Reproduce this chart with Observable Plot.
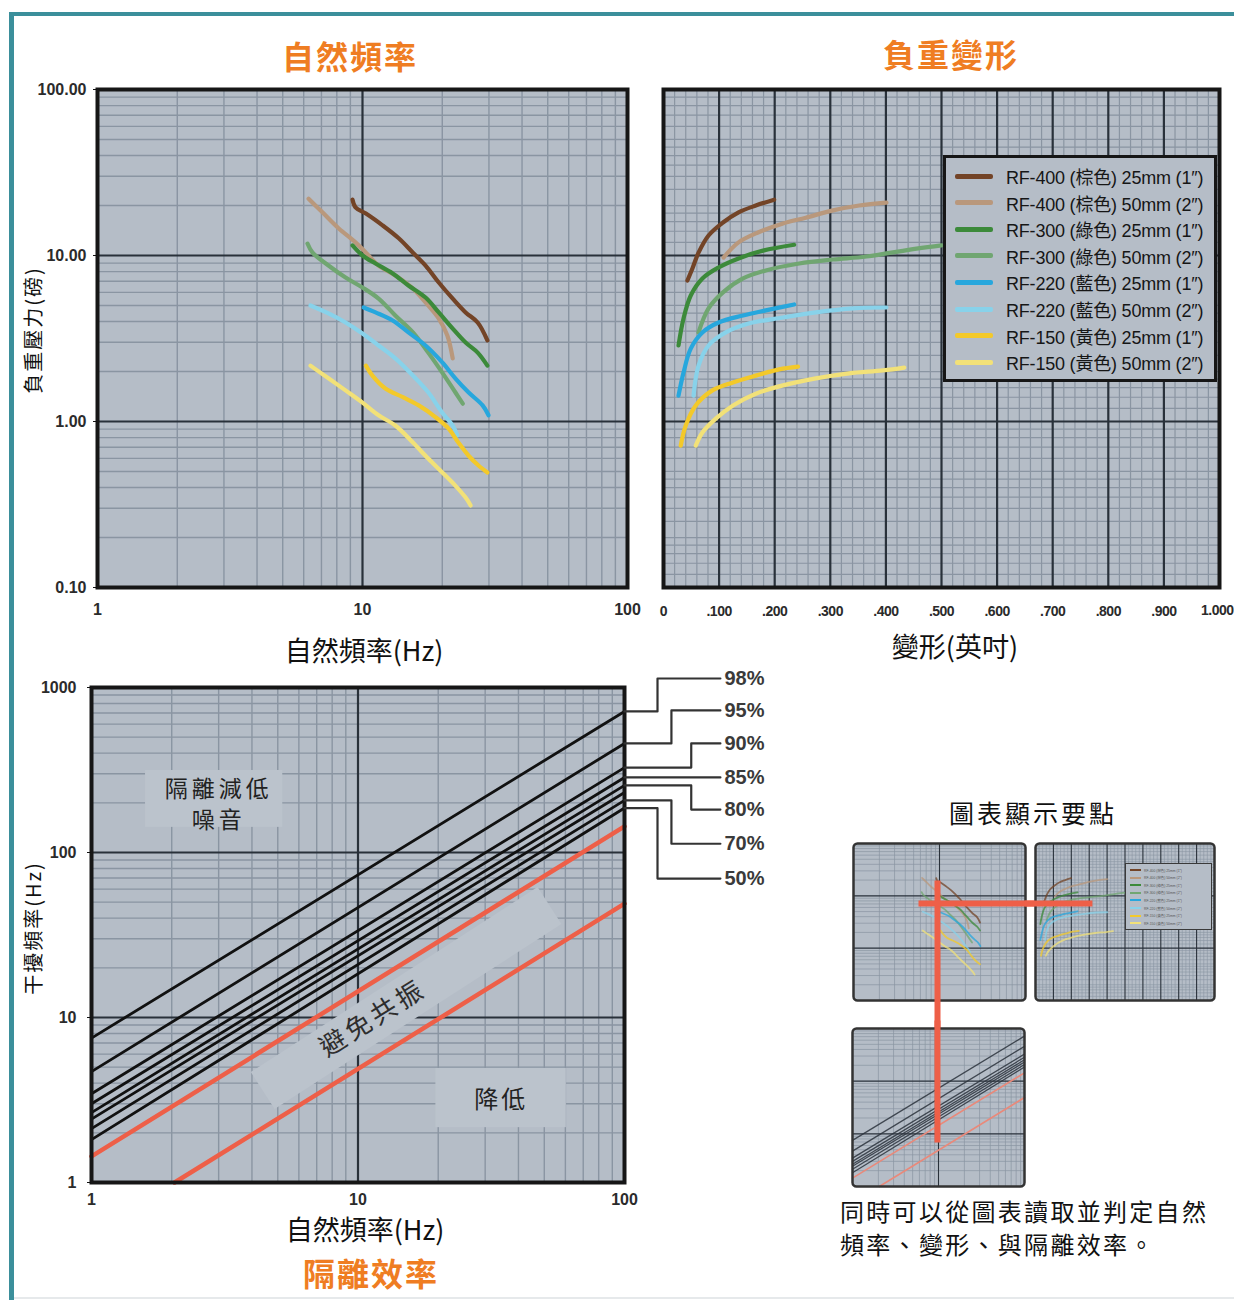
<!DOCTYPE html>
<html lang="zh-Hant">
<head>
<meta charset="utf-8">
<title>自然頻率・負重變形・隔離效率</title>
<script src="https://cdn.jsdelivr.net/npm/d3@7"></script>
<script src="https://cdn.jsdelivr.net/npm/@observablehq/plot@0.6"></script>
<style>
html,body{margin:0;padding:0;background:#fff;}
#page{position:relative;width:1234px;height:1300px;overflow:hidden;background:#fff;font-family:"Noto Sans CJK TC","Noto Sans",sans-serif;color:#111;}
#page svg{position:absolute;}
.t{position:absolute;white-space:nowrap;transform:translate(-50%,-50%);line-height:1;}
.orange{color:#ef7d22;font-weight:700;font-size:32px;letter-spacing:2px;}
.legend{position:absolute;box-sizing:border-box;border:3px solid #161616;background:#b5bdc7;}
.legend .row{position:absolute;left:9px;height:20px;display:flex;align-items:center;white-space:nowrap;font-family:"Liberation Sans","Noto Sans CJK TC",sans-serif;font-size:18px;letter-spacing:-0.2px;color:#161616;}
.legend .sw{width:38px;height:5px;margin-right:13px;border-radius:2px;}
.mleg{position:absolute;box-sizing:border-box;border:1.5px solid #3a3a3a;background:#b5bdc7;}
.mleg .row{position:absolute;left:4px;height:6px;display:flex;align-items:center;white-space:nowrap;font-family:"Liberation Sans","Noto Sans CJK TC",sans-serif;font-size:3.4px;color:#555;}
.mleg .sw{width:11px;height:2px;margin-right:3px;}
.sp4 text{letter-spacing:4px;}
.sp3 text{letter-spacing:3px;}
.tight text{letter-spacing:-0.5px;}
</style>
</head>
<body>
<div id="page"></div>
<script>
// ---------------- DATA ----------------
const seriesNames = [
  "RF-400 (棕色) 25mm (1″)", "RF-400 (棕色) 50mm (2″)",
  "RF-300 (綠色) 25mm (1″)", "RF-300 (綠色) 50mm (2″)",
  "RF-220 (藍色) 25mm (1″)", "RF-220 (藍色) 50mm (2″)",
  "RF-150 (黃色) 25mm (1″)", "RF-150 (黃色) 50mm (2″)"
];

// Chart 1: 自然頻率 (Hz) vs 負重壓力 (磅)
const fn_RF400_25 = [9.17, 9.41, 10.3, 11.9, 13.7, 15.5, 17.3, 19.4, 21.9, 24.5, 27.2, 29.6];
const lb_RF400_25 = [21.7, 19.5, 17.9, 15.2, 12.7, 10.4, 8.7, 6.88, 5.5, 4.54, 3.95, 3.08];
const fn_RF400_50 = [6.26, 7.06, 8.12, 9.41, 10.3, 11.5, 13.3, 15.5, 17.7, 19.4, 20.9, 21.9];
const lb_RF400_50 = [22.0, 18.2, 14.6, 12.0, 10.4, 8.7, 7.58, 6.32, 5.0, 4.17, 3.3, 2.4];
const fn_RF300_25 = [9.17, 10.0, 11.2, 13.0, 14.9, 17.3, 19.4, 21.9, 24.5, 27.2, 29.6];
const lb_RF300_25 = [11.5, 10.0, 8.95, 7.8, 6.6, 5.58, 4.54, 3.63, 2.99, 2.6, 2.17];
const fn_RF300_50 = [6.2, 6.48, 7.44, 8.63, 10.0, 11.5, 13.3, 15.5, 17.7, 20.0, 22.4, 23.9];
const lb_RF300_50 = [11.8, 10.4, 8.7, 7.36, 6.41, 5.5, 4.35, 3.44, 2.6, 1.97, 1.5, 1.28];
const fn_RF220_25 = [10.1, 11.2, 13.0, 14.9, 17.3, 20.0, 22.4, 25.1, 28.4, 29.9];
const lb_RF220_25 = [4.86, 4.54, 4.06, 3.44, 2.87, 2.27, 1.82, 1.5, 1.25, 1.09];
const fn_RF220_50 = [6.36, 7.44, 8.63, 10.0, 11.5, 13.3, 15.5, 17.7, 20.0, 21.9, 22.8];
const lb_RF220_50 = [5.0, 4.48, 3.95, 3.39, 2.87, 2.4, 1.89, 1.5, 1.13, 0.946, 0.824];
const fn_RF150_25 = [10.3, 10.9, 12.2, 14.2, 16.3, 18.9, 21.1, 23.0, 25.1, 27.4, 29.6];
const lb_RF150_25 = [2.17, 1.89, 1.58, 1.4, 1.25, 1.06, 0.908, 0.747, 0.624, 0.543, 0.493];
const fn_RF150_50 = [6.36, 7.44, 8.63, 10.0, 11.5, 13.3, 15.5, 17.7, 20.0, 22.4, 24.5, 25.6];
const lb_RF150_50 = [2.17, 1.82, 1.54, 1.3, 1.09, 0.946, 0.747, 0.598, 0.493, 0.411, 0.348, 0.312];

// Chart 2: 變形 (英吋) vs 負重壓力 (磅)
const df_RF400_25 = [0.043, 0.052, 0.063, 0.081, 0.107, 0.135, 0.166, 0.199];
const dl_RF400_25 = [7.07, 8.35, 10.4, 13.2, 15.8, 18.2, 20.0, 21.7];
const df_RF400_50 = [0.108, 0.135, 0.171, 0.215, 0.256, 0.305, 0.352, 0.401];
const dl_RF400_50 = [9.72, 12.0, 13.8, 15.6, 16.9, 18.7, 20.0, 20.8];
const df_RF300_25 = [0.027, 0.036, 0.049, 0.070, 0.099, 0.135, 0.179, 0.235];
const dl_RF300_25 = [2.87, 4.17, 5.74, 7.27, 8.47, 9.6, 10.7, 11.6];
const df_RF300_50 = [0.063, 0.081, 0.107, 0.143, 0.184, 0.244, 0.305, 0.365, 0.455, 0.5];
const dl_RF300_50 = [3.44, 4.8, 5.99, 7.27, 8.13, 8.95, 9.46, 9.86, 11.0, 11.5];
const df_RF220_25 = [0.027, 0.036, 0.049, 0.070, 0.099, 0.143, 0.184, 0.235];
const dl_RF220_25 = [1.43, 1.97, 2.75, 3.44, 3.95, 4.35, 4.67, 5.07];
const df_RF220_50 = [0.054, 0.063, 0.081, 0.112, 0.153, 0.215, 0.274, 0.341, 0.401];
const dl_RF220_50 = [1.43, 2.17, 2.87, 3.44, 3.89, 4.23, 4.54, 4.8, 4.86];
const df_RF150_25 = [0.031, 0.040, 0.058, 0.088, 0.125, 0.166, 0.208, 0.242];
const dl_RF150_25 = [0.716, 0.946, 1.25, 1.54, 1.72, 1.89, 2.06, 2.14];
const df_RF150_50 = [0.058, 0.070, 0.094, 0.125, 0.166, 0.215, 0.274, 0.334, 0.395, 0.433];
const dl_RF150_50 = [0.716, 0.859, 1.04, 1.25, 1.47, 1.65, 1.82, 1.95, 2.03, 2.11];

// Chart 3: 隔離效率 — 干擾頻率 (Hz) at 自然頻率 1 Hz and 100 Hz
const isoLineAt1   = [7.5, 4.7, 3.45, 3.0, 2.65, 2.42, 2.12, 1.82];
const isoLineAt100 = [716, 458, 327, 285, 255, 231, 207, 186];
const resonanceX = [1, 100];
const resonanceY = [1.44, 144];
const lowerRedX = [2.05, 100];
const lowerRedY = [1.0, 49];
const isoLabels = ["98%", "95%", "90%", "85%", "80%", "70%", "50%"];
const isoLabelLine = [0, 1, 2, 3, 4, 6, 7];
const isoLabelY = [1134, 726, 458, 285, 182, 113, 69.5];

// tick labels
const natTicksX = [1, 10, 100];
const loadTicksY = [0.1, 1, 10, 100];
const defTicksX = [0, 0.1, 0.2, 0.3, 0.4, 0.5, 0.6, 0.7, 0.8, 0.9];
const defLastTick = [1.0];
const isoTicksY = [1, 10, 100, 1000];

// ---------------- STYLE ----------------
const seriesColors = ["#734427","#b9987c","#3c8a3a","#70a671","#27a7dd","#88d2ea","#f3c92a","#f2e178"];
const BG = "#b5bdc7", MINOR = "#8a95a2", MAJOR = "#29313a", FRAME = "#161616", RED = "#ee5f48", BOX = "#bbc3cc";
const NUMFONT = "'Liberation Sans', Arial, sans-serif";
const CJK = "'Noto Sans CJK TC', 'Noto Sans', sans-serif";
const plotStyle = {background: "transparent", overflow: "visible"};

// ---------------- HELPERS ----------------
const page = document.getElementById("page");
function put(node, left, top) { node.style.left = left + "px"; node.style.top = top + "px"; page.appendChild(node); return node; }
function label(str, cx, cy, css) {
  const d = document.createElement("div"); d.className = "t"; d.textContent = str;
  d.style.left = cx + "px"; d.style.top = cy + "px"; if (css) d.style.cssText += css;
  page.appendChild(d); return d;
}
function logMinor(e0, e1, ks = [2,3,4,5,6,7,8,9]) { const o = []; for (let e = e0; e < e1; e++) for (const k of ks) o.push(k * 10 ** e); return o; }
function tidy(pairs) { return pairs.flatMap(([xs, ys], i) => xs.map((x, j) => ({x, y: ys[j], s: seriesNames[i]}))); }

const natData = tidy([[fn_RF400_25, lb_RF400_25],[fn_RF400_50, lb_RF400_50],[fn_RF300_25, lb_RF300_25],[fn_RF300_50, lb_RF300_50],
                      [fn_RF220_25, lb_RF220_25],[fn_RF220_50, lb_RF220_50],[fn_RF150_25, lb_RF150_25],[fn_RF150_50, lb_RF150_50]]);
const defData = tidy([[df_RF400_25, dl_RF400_25],[df_RF400_50, dl_RF400_50],[df_RF300_25, dl_RF300_25],[df_RF300_50, dl_RF300_50],
                      [df_RF220_25, dl_RF220_25],[df_RF220_50, dl_RF220_50],[df_RF150_25, dl_RF150_25],[df_RF150_50, dl_RF150_50]]);
const isoData = isoLineAt1.flatMap((v, i) => [{x: 1, y: v, i}, {x: 100, y: isoLineAt100[i], i}]);
const redData = [
  ...resonanceX.map((x, j) => ({x, y: resonanceY[j], i: 0})),
  ...lowerRedX.map((x, j) => ({x, y: lowerRedY[j], i: 1}))
];

const colorScale = {domain: seriesNames, range: seriesColors};
const tickText = {fontSize: 16, fontWeight: "bold", fontFamily: NUMFONT, fill: "#2b2b2b", label: null};

// ---------------- CHART 1: 自然頻率 ----------------
function natChart(mini) {
  const g = mini ? {mw: 0.7, Mw: 1.1, lw: 1.8, fw: 2.5} : {mw: 1.4, Mw: 2.2, lw: 4.2, fw: 4};
  const marks = [
    Plot.frame({fill: BG, stroke: "none", rx: mini ? 4 : 0}),
    Plot.ruleX(logMinor(0, 2), {stroke: MINOR, strokeWidth: g.mw}),
    Plot.ruleY(logMinor(-1, 2), {stroke: MINOR, strokeWidth: g.mw}),
    Plot.ruleX([10], {stroke: MAJOR, strokeWidth: g.Mw}),
    Plot.ruleY([1, 10], {stroke: MAJOR, strokeWidth: g.Mw}),
    Plot.line(natData, {x: "x", y: "y", z: "s", stroke: "s", strokeWidth: g.lw, curve: "catmull-rom", strokeLinecap: "round", strokeOpacity: mini ? 0.75 : 1}),
    Plot.frame({stroke: mini ? "#333" : FRAME, strokeWidth: g.fw, rx: mini ? 4 : 0})
  ];
  if (!mini) {
    marks.push(Plot.axisX({ticks: natTicksX, tickFormat: d => String(d), tickSize: 0, tickPadding: 16, ...tickText}));
    marks.push(Plot.axisY({ticks: loadTicksY, tickFormat: d => d.toFixed(2), tickSize: 4, tickPadding: 7, ...tickText}));
  } else {
    // reading guide (red): 自然頻率 ≈ 9.5 Hz, 負重 ≈ 7.1 磅
    marks.push(Plot.link([{x1: 9.48, x2: 9.48, y1: 19.6, y2: 0.0267}], {x1: "x1", x2: "x2", y1: "y1", y2: "y2", stroke: RED, strokeWidth: 6}));
    marks.push(Plot.link([{x1: 5.7, x2: 127, y1: 7.14, y2: 7.14}], {x1: "x1", x2: "x2", y1: "y1", y2: "y2", stroke: RED, strokeWidth: 6}));
  }
  return Plot.plot({
    width: mini ? 176 : 640, height: mini ? 161 : 570,
    marginLeft: mini ? 2 : 97, marginRight: mini ? 2 : 13, marginTop: mini ? 2 : 29, marginBottom: mini ? 2 : 43,
    x: {type: "log", domain: [1, 100], ...(mini ? {axis: null} : {})},
    y: {type: "log", domain: [0.1, 100], ...(mini ? {axis: null} : {})},
    color: colorScale, style: plotStyle, marks
  });
}

// ---------------- CHART 2: 負重變形 ----------------
function defChart(mini) {
  const g = mini ? {mw: 0.6, Mw: 1.1, lw: 1.8, fw: 2.5} : {mw: 1.2, Mw: 2.2, lw: 4.2, fw: 4};
  const vMinor = d3.range(1, 50).map(i => i * 0.02).filter(v => Math.abs(v * 10 - Math.round(v * 10)) > 1e-6);
  const vMajor = d3.range(1, 10).map(i => i / 10);
  const hMinor = logMinor(-1, 2, [1.2, 1.4, 1.6, 1.8, 2, 2.5, 3, 3.5, 4, 4.5, 5, 6, 7, 8, 9]);
  const marks = [
    Plot.frame({fill: BG, stroke: "none", rx: mini ? 4 : 0}),
    Plot.ruleX(vMinor, {stroke: MINOR, strokeWidth: g.mw}),
    Plot.ruleY(hMinor, {stroke: MINOR, strokeWidth: g.mw}),
    Plot.ruleX(vMajor, {stroke: MAJOR, strokeWidth: g.Mw}),
    Plot.ruleY([1, 10], {stroke: MAJOR, strokeWidth: g.Mw}),
    Plot.line(defData, {x: "x", y: "y", z: "s", stroke: "s", strokeWidth: g.lw, curve: "catmull-rom", strokeLinecap: "round", strokeOpacity: mini ? 0.75 : 1}),
    Plot.frame({stroke: mini ? "#333" : FRAME, strokeWidth: g.fw, rx: mini ? 4 : 0})
  ];
  if (!mini) {
    marks.push(Plot.axisX({ticks: defTicksX, tickFormat: d => d === 0 ? "0" : "." + Math.round(d * 1000), tickSize: 0, tickPadding: 19, ...tickText, fontSize: 14, className: "tight"}));
    // last tick label kept inside the page edge
    marks.push(Plot.text(defLastTick, {x: d => d, frameAnchor: "bottom", text: d => d.toFixed(3), textAnchor: "end", dx: 14, dy: 18, lineAnchor: "top",
      fontSize: 14, fontWeight: "bold", fontFamily: NUMFONT, fill: "#2b2b2b", className: "tight"}));
  } else {
    marks.push(Plot.link([{x1: -0.061, x2: 0.318, y1: 7.14, y2: 7.14}], {x1: "x1", x2: "x2", y1: "y1", y2: "y2", stroke: RED, strokeWidth: 6}));
  }
  return Plot.plot({
    width: mini ? 183 : 594, height: mini ? 161 : 570,
    marginLeft: mini ? 2 : 23, marginRight: mini ? 2 : 15, marginTop: mini ? 2 : 29, marginBottom: mini ? 2 : 43,
    x: {type: "linear", domain: [0, 1], ...(mini ? {axis: null} : {})},
    y: {type: "log", domain: [0.1, 100], axis: null},
    color: colorScale, style: plotStyle, marks
  });
}

// ---------------- CHART 3: 隔離效率 ----------------
function isoChart(mini) {
  const g = mini ? {mw: 0.7, Mw: 1.1, bw: 1.3, rw: 1.6, fw: 2.5} : {mw: 1.4, Mw: 2.2, bw: 2.8, rw: 4.5, fw: 4};
  const marks = [
    Plot.frame({fill: BG, stroke: "none", rx: mini ? 4 : 0}),
    Plot.ruleX(logMinor(0, 2), {stroke: MINOR, strokeWidth: g.mw}),
    Plot.ruleY(logMinor(0, 3), {stroke: MINOR, strokeWidth: g.mw}),
    Plot.ruleX([10], {stroke: MAJOR, strokeWidth: g.Mw}),
    Plot.ruleY([10, 100], {stroke: MAJOR, strokeWidth: g.Mw})
  ];
  if (!mini) {
    marks.push(
      Plot.rect([{x1: 1.595, x2: 5.22, y1: 142, y2: 314}, {x1: 19.6, x2: 60.5, y1: 2.15, y2: 4.91}], {x1: "x1", x2: "x2", y1: "y1", y2: "y2", fill: BOX}),
      Plot.line([{x: 4.39, y: 3.61}, {x: 52.3, y: 47.7}], {x: "x", y: "y", stroke: BOX, strokeWidth: 44, strokeLinecap: "butt"})
    );
  }
  marks.push(
    Plot.line(redData, {x: "x", y: "y", z: "i", stroke: mini ? "#e9897a" : RED, strokeWidth: g.rw}),
    Plot.line(isoData, {x: "x", y: "y", z: "i", stroke: mini ? "#2c333c" : "#111", strokeWidth: g.bw, strokeOpacity: mini ? 0.85 : 1})
  );
  if (!mini) {
    marks.push(
      Plot.text([{x: 3.0, y: 242, t: "隔離減低"}, {x: 3.0, y: 156, t: "噪音"}], {x: "x", y: "y", text: "t", fontSize: 23, fill: "#222", fontFamily: CJK, className: "sp4"}),
      Plot.text([{x: 34.5, y: 3.14, t: "降低"}], {x: "x", y: "y", text: "t", fontSize: 24, fill: "#222", fontFamily: CJK, className: "sp3"}),
      Plot.text([{x: 11.4, y: 9.85, t: "避免共振"}], {x: "x", y: "y", text: "t", fontSize: 26, rotate: -32, fill: "#2e2e2e", fontFamily: CJK, className: "sp4"})
    );
  }
  marks.push(Plot.frame({stroke: mini ? "#333" : FRAME, strokeWidth: g.fw, rx: mini ? 4 : 0}));
  if (!mini) {
    marks.push(Plot.axisX({ticks: natTicksX, tickFormat: d => String(d), tickSize: 0, tickPadding: 11, ...tickText}));
    marks.push(Plot.axisY({ticks: isoTicksY, tickFormat: d => String(d), tickSize: 4, tickPadding: 11, ...tickText}));
    // leader lines to efficiency labels (drawn in the right margin)
    const elbowX = [133, 150, 178, null, 178, 150, 133];
    const endX = 229;
    const leaders = isoLabels.flatMap((lab, k) => {
      const y0 = isoLineAt100[isoLabelLine[k]], y1 = isoLabelY[k];
      return elbowX[k] == null
        ? [{x: 100, y: y0, k}, {x: endX, y: y0, k}]
        : [{x: 100, y: y0, k}, {x: elbowX[k], y: y0, k}, {x: elbowX[k], y: y1, k}, {x: endX, y: y1, k}];
    });
    marks.push(Plot.line(leaders, {x: "x", y: "y", z: "k", stroke: "#333", strokeWidth: 2.2}));
    marks.push(Plot.text(isoLabels.map((t, k) => ({t, x: endX, y: isoLabelLine[k] === 3 ? isoLineAt100[3] : isoLabelY[k]})),
      {x: "x", y: "y", text: "t", textAnchor: "start", dx: 4, fontSize: 20, fontWeight: "bold", fontFamily: NUMFONT, fill: "#3a3a3a"}));
  } else {
    marks.push(Plot.link([{x1: 9.73, x2: 9.73, y1: 1419, y2: 6.84}], {x1: "x1", x2: "x2", y1: "y1", y2: "y2", stroke: RED, strokeWidth: 6}));
  }
  return Plot.plot({
    width: mini ? 176 : 800, height: mini ? 162 : 560,
    marginLeft: mini ? 2 : 91, marginRight: mini ? 2 : 176, marginTop: mini ? 2 : 17, marginBottom: mini ? 2 : 48,
    x: {type: "log", domain: [1, 100], ...(mini ? {axis: null} : {})},
    y: {type: "log", domain: [1, 1000], ...(mini ? {axis: null} : {})},
    style: plotStyle, marks
  });
}

// ---------------- PAGE ----------------
const bTop = document.createElement("div"); bTop.style.cssText = "position:absolute;left:9px;top:12px;width:1225px;height:4px;background:#3b8f9b;"; page.appendChild(bTop);
const bLeft = document.createElement("div"); bLeft.style.cssText = "position:absolute;left:9px;top:12px;width:5px;height:1288px;background:#3b8f9b;"; page.appendChild(bLeft);
const bBot = document.createElement("div"); bBot.style.cssText = "position:absolute;left:14px;top:1297px;width:1220px;height:2px;background:#e6e9eb;"; page.appendChild(bBot);

put(natChart(false), 0, 60);
put(defChart(false), 640, 60);
put(isoChart(false), 0, 670);

// legend (chart 2)
const leg = document.createElement("div"); leg.className = "legend";
leg.style.cssText = "left:943px;top:155px;width:274px;height:227px;";
seriesNames.forEach((n, i) => {
  const row = document.createElement("div"); row.className = "row"; row.style.top = (8 + i * 26.6) + "px";
  const sw = document.createElement("div"); sw.className = "sw"; sw.style.background = seriesColors[i];
  const tx = document.createElement("span"); tx.textContent = n;
  row.appendChild(sw); row.appendChild(tx); leg.appendChild(row);
});
page.appendChild(leg);

// titles and axis titles
label("自然頻率", 350, 55).classList.add("orange");
label("負重變形", 951, 53).classList.add("orange");
label("自然頻率(Hz)", 364, 649, "font-size:27px;");
label("變形(英吋)", 955, 645, "font-size:27px;");
label("負重壓力(磅)", 33, 330, "font-size:20px;letter-spacing:2px;transform:translate(-50%,-50%) rotate(-90deg);");
label("干擾頻率(Hz)", 33, 928, "font-size:20px;letter-spacing:2px;transform:translate(-50%,-50%) rotate(-90deg);");
label("自然頻率(Hz)", 365, 1228, "font-size:27px;");
label("隔離效率", 371, 1272).classList.add("orange");

// inset: 圖表顯示要點
label("圖表顯示要點", 1033, 812, "font-size:25px;letter-spacing:3px;");
put(natChart(true), 851, 841);
put(defChart(true), 1033, 841);
put(isoChart(true), 850, 1026);
const mleg = document.createElement("div"); mleg.className = "mleg";
mleg.style.cssText = "left:1125px;top:863px;width:87px;height:67px;";
seriesNames.forEach((n, i) => {
  const row = document.createElement("div"); row.className = "row"; row.style.top = (3 + i * 7.6) + "px";
  const sw = document.createElement("div"); sw.className = "sw"; sw.style.background = seriesColors[i];
  const tx = document.createElement("span"); tx.textContent = n;
  row.appendChild(sw); row.appendChild(tx); mleg.appendChild(row);
});
page.appendChild(mleg);

label("同時可以從圖表讀取並判定自然", 840, 1211, "font-size:24px;letter-spacing:2.3px;transform:translate(0,-50%);");
label("頻率、變形、與隔離效率。", 840, 1244, "font-size:24px;letter-spacing:2.3px;transform:translate(0,-50%);");
</script>
</body>
</html>
